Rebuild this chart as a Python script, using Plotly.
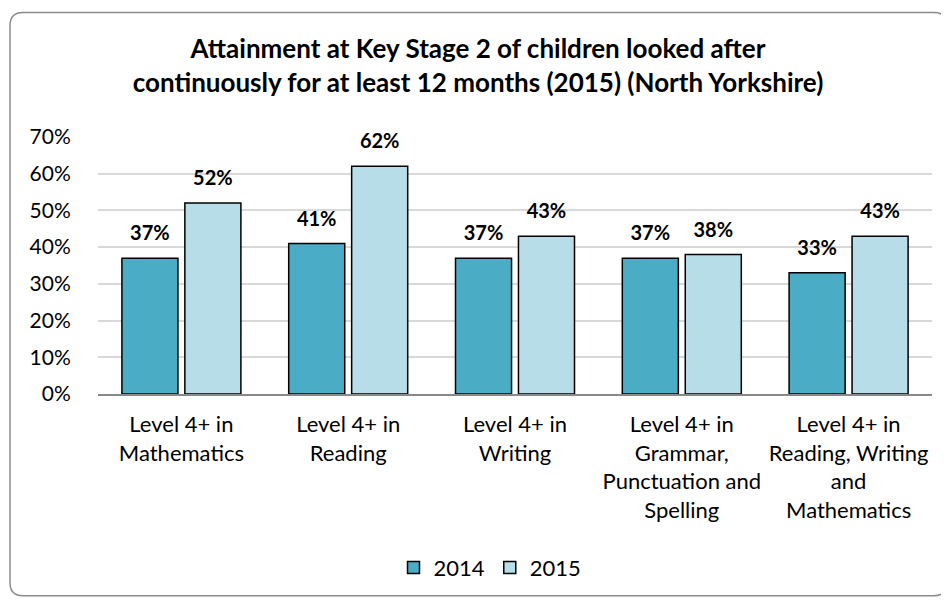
import plotly.graph_objects as go

categories = [
    "Level 4+ in<br>Mathematics",
    "Level 4+ in<br>Reading",
    "Level 4+ in<br>Writing",
    "Level 4+ in<br>Grammar,<br>Punctuation and<br>Spelling",
    "Level 4+ in<br>Reading, Writing<br>and<br>Mathematics",
]
series_names = ["2014", "2015"]
values_2014 = [0.37, 0.41, 0.37, 0.37, 0.33]
values_2015 = [0.52, 0.62, 0.43, 0.38, 0.43]
y_ticks = [0, 0.1, 0.2, 0.3, 0.4, 0.5, 0.6, 0.7]

FONT = "Lato"
OFF = 8  # page body margin
W, H = 949 - OFF, 600 - OFF
# plot area in window pixels
PX0, PX1, PY0, PY1 = 98, 932, 136.7, 394
ML, MR = PX0 - OFF, W - (PX1 - OFF)
MT, MB = PY0 - OFF, H - (PY1 - OFF)
PW, PH = PX1 - PX0, PY1 - PY0

colors = ["#4BACC6", "#B7DEE8"]
series_values = [values_2014, values_2015]

fig = go.Figure()
for name, vals, col in zip(series_names, series_values, colors):
    fig.add_trace(go.Bar(
        name=name, x=categories, y=vals,
        marker=dict(color=col, line=dict(color="#000000", width=1.5)),
        hoverinfo="skip",
    ))
for name, vals in zip(series_names, series_values):
    fig.add_trace(go.Scatter(
        x=categories, y=vals, mode="markers+text", orientation="v",
        marker=dict(size=19, opacity=0),
        texttemplate="<b>%{y:.0%}</b>", textposition="top center",
        textfont=dict(family=FONT, size=20, color="#000000"),
        cliponaxis=False, showlegend=False, hoverinfo="skip",
    ))

def px(x):
    return (x - PX0) / PW

def py(y):
    return (PY1 - y) / PH

x0, x1, y0, y1, r = 10, 947, 12, 596, 13
path = (
    f"M {px(x0 + r)},{py(y0)} L {px(x1 - r)},{py(y0)} "
    f"Q {px(x1)},{py(y0)} {px(x1)},{py(y0 + r)} "
    f"L {px(x1)},{py(y1 - r)} Q {px(x1)},{py(y1)} {px(x1 - r)},{py(y1)} "
    f"L {px(x0 + r)},{py(y1)} Q {px(x0)},{py(y1)} {px(x0)},{py(y1 - r)} "
    f"L {px(x0)},{py(y0 + r)} Q {px(x0)},{py(y0)} {px(x0 + r)},{py(y0)} Z"
)

fig.update_layout(
    width=W, height=H,
    margin=dict(l=ML, r=MR, t=MT, b=MB, autoexpand=False),
    paper_bgcolor="#FFFFFF", plot_bgcolor="#FFFFFF",
    font=dict(family=FONT, color="#000000"),
    barmode="group", bargap=0.245, bargroupgap=0.11,
    scattermode="group", scattergap=0.245,
    title=dict(
        text="<b>Attainment at Key Stage 2 of children looked after<br>continuously for at least 12 months (2015) (North Yorkshire)</b>",
        x=(478 - OFF) / W, xanchor="center", y=1 - (58 - OFF) / H, yanchor="middle",
        yref="container", xref="container",
        font=dict(family=FONT, size=26, color="#000000"),
    ),
    xaxis=dict(
        tickfont=dict(family=FONT, size=22, color="#000000"),
        showline=True, linecolor="#898989", linewidth=1.5,
        ticks="outside", ticklen=10, tickcolor="rgba(0,0,0,0)", showgrid=False,
    ),
    yaxis=dict(
        range=[0, 0.7], tickvals=y_ticks, tickformat=".0%",
        tickfont=dict(family=FONT, size=21, color="#000000"),
        showgrid=True, gridcolor="#D9D9D9", gridwidth=1.5,
        ticks="outside", ticklen=22, tickcolor="rgba(0,0,0,0)",
        zeroline=False, showline=False,
    ),
    legend=dict(
        orientation="h", x=px(490), xanchor="center", y=py(568), yanchor="middle",
        font=dict(family=FONT, size=22, color="#000000"),
        traceorder="normal",
    ),
    shapes=[dict(type="path", path=path, xref="paper", yref="paper",
                 line=dict(color="#8C8C8C", width=1.5), layer="below")],
)

fig.write_html("out.html")
